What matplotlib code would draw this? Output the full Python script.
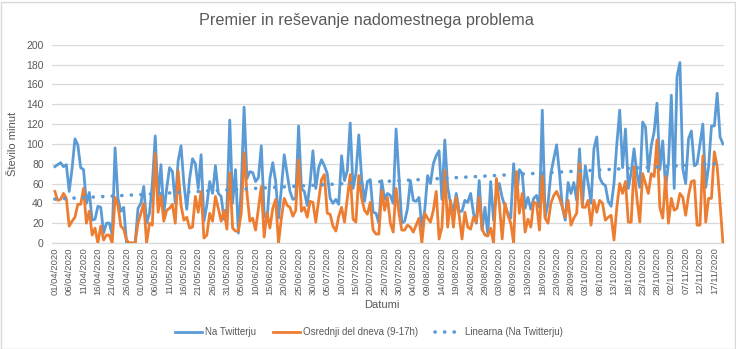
import numpy as np
import pandas as pd
import matplotlib
matplotlib.use("Agg")
import matplotlib.pyplot as plt
from matplotlib.patches import Rectangle
from matplotlib.lines import Line2D

start_date = "2020-04-01"

na_twitterju = [
    77, 79, 81, 77, 79, 52, 75, 105, 99, 76, 74, 40, 51, 23, 24, 37, 36, 10, 20, 20,
    8, 96, 45, 32, 36, 0, 0, 0, 0, 35, 40, 57, 20, 30, 60, 108, 45, 79, 30, 55,
    76, 72, 40, 83, 98, 60, 34, 65, 85, 80, 55, 89, 22, 38, 62, 50, 78, 50, 47, 24,
    35, 124, 40, 74, 10, 55, 137, 65, 72, 71, 62, 66, 98, 30, 22, 65, 81, 62, 25, 55,
    89, 70, 52, 44, 45, 118, 55, 52, 38, 60, 93, 55, 76, 84, 78, 70, 45, 40, 44, 39,
    88, 63, 73, 121, 55, 70, 109, 65, 42, 62, 64,
    31, 30, 20, 63, 44, 50, 48, 40, 115, 67, 20, 22, 35, 63, 43, 42, 46, 16, 33,
    68, 60, 80, 88, 93, 44, 104, 56, 40, 32, 50, 32, 32, 43, 41, 50, 30, 20, 63,
    13, 36, 8, 62, 23, 50, 60, 46, 37, 30, 25, 80, 46, 74, 70, 35, 46, 34, 45, 48,
    36, 134, 26, 40, 70, 85, 99, 70, 36, 23, 61, 50, 61, 43, 95, 38, 78, 60, 40, 95,
    107, 66, 60, 58, 42, 37, 60, 100, 134, 76, 115, 55, 71, 95, 70, 56, 122, 117, 72, 98,
    112, 141, 74, 103, 56, 80, 149, 55, 168, 182, 75, 60, 105, 113, 78, 80, 100, 120, 56, 77,
    118, 118, 151, 107, 100,
]

osrednji_del = [
    52, 43, 44, 50, 45, 17, 22, 26, 39, 39, 55, 20, 32, 8, 15, 0, 17, 3, 8, 8,
    0, 46, 38, 17, 14, 3, 0, 0, 0, 20, 30, 40, 0, 20, 18, 90, 31, 48, 22, 33,
    35, 39, 20, 73, 38, 23, 26, 15, 16, 47, 31, 52, 5, 8, 30, 22, 47, 35, 22, 33,
    14, 71, 15, 12, 12, 30, 91, 50, 22, 25, 13, 35, 57, 6, 31, 15, 35, 44, 0, 25,
    45, 38, 36, 27, 33, 84, 32, 36, 26, 42, 41, 21, 43, 64, 69, 30, 29, 17, 12, 27,
    36, 21, 45, 69, 24, 21, 68, 45, 33, 29, 41,
    13, 9, 9, 53, 33, 46, 20, 11, 55, 30, 13, 13, 18, 16, 11, 18, 25, 0, 30,
    25, 21, 33, 52, 4, 16, 73, 16, 43, 16, 46, 28, 4, 31, 16, 14, 26, 21, 46,
    14, 8, 7, 15, 0, 65, 40, 4, 40, 28, 20, 0, 72, 30, 50, 11, 24, 16, 41, 40,
    13, 68, 25, 20, 40, 48, 52, 45, 36, 26, 43, 18, 25, 30, 80, 36, 36, 43, 18, 43,
    31, 43, 40, 23, 26, 28, 3, 36, 60, 50, 62, 21, 21, 77, 45, 21, 70, 60, 50, 70,
    67, 104, 36, 25, 67, 20, 45, 33, 35, 50, 46, 28, 48, 62, 63, 18, 18, 88, 21, 45,
    45, 92, 77, 40, 0,
]

n = min(len(na_twitterju), len(osrednji_del))
na_twitterju = np.array(na_twitterju[:n], dtype=float)
osrednji_del = np.array(osrednji_del[:n], dtype=float)
dates = pd.date_range(start_date, periods=n, freq="D")
x = np.arange(n)

BLUE = "#5B9BD5"
ORANGE = "#ED7D31"
GRID = "#D9D9D9"
TXT = "#595959"
FONT = ["Liberation Sans", "DejaVu Sans"]
plt.rcParams["font.family"] = FONT

fig = plt.figure(figsize=(7.36, 3.49), dpi=100)
ax = fig.add_axes([52 / 736, 1 - 243 / 349, (723.5 - 52) / 736, (243 - 44.7) / 349])

ax.plot(x, na_twitterju, color=BLUE, lw=2.0, solid_joinstyle="round", zorder=3)
ax.plot(x, osrednji_del, color=ORANGE, lw=2.0, solid_joinstyle="round", zorder=4)

coef = np.polyfit(x, na_twitterju, 1)
trend = np.polyval(coef, x)
ax.plot(x, trend, color=BLUE, lw=2.6, linestyle=(0, (0.05, 2.6)),
        dash_capstyle="round", zorder=5)

ax.set_xlim(-1, n - 0.8)
ax.set_ylim(0, 200)
ax.set_yticks(np.arange(0, 201, 20))
ax.grid(axis="y", color=GRID, lw=0.9)
ax.set_axisbelow(True)
for s in ["top", "right", "left"]:
    ax.spines[s].set_visible(False)
ax.spines["bottom"].set_color(GRID)
ax.spines["bottom"].set_linewidth(0.9)

tick_idx = x[::5]
ax.set_xticks(tick_idx)
ax.set_xticklabels([dates[i].strftime("%d/%m/%Y") for i in tick_idx],
                   rotation=90, fontsize=6.8, color=TXT)
ax.tick_params(axis="x", length=0, pad=3)
ax.tick_params(axis="y", length=0, labelsize=7.5, labelcolor=TXT, pad=6)

ax.set_ylabel("Število minut", fontsize=8, color=TXT)
ax.yaxis.set_label_coords((18 - 52) / (723.5 - 52), 0.5)
fig.text(382 / 736, 1 - 305 / 349, "Datumi", ha="center", va="center",
         fontsize=8, color=TXT)

fig.text(366 / 736, 1 - 20 / 349, "Premier in reševanje nadomestnega problema",
         ha="center", va="center", fontsize=11.7, color=TXT)

handles = [
    Line2D([], [], color=BLUE, lw=2.0),
    Line2D([], [], color=ORANGE, lw=2.0),
    Line2D([], [], color=BLUE, lw=2.6, linestyle=(0, (0.05, 2.6)), dash_capstyle="round"),
]
labels = ["Na Twitterju", "Osrednji del dneva (9-17h)", "Linearna (Na Twitterju)"]
fig.legend(handles, labels, loc="center", bbox_to_anchor=(369 / 736, 1 - 332 / 349),
           ncol=3, frameon=False, fontsize=7, handlelength=2.8, handletextpad=0.3,
           columnspacing=1.7, labelcolor=TXT)

fig.patches.append(Rectangle((0.5 / 736, 0.5 / 349), 1 - 2 / 736, 1 - 2 / 349,
                             transform=fig.transFigure, fill=False,
                             edgecolor="#D9D9D9", lw=1.0))

fig.savefig("out.png", dpi=100, facecolor="white")
